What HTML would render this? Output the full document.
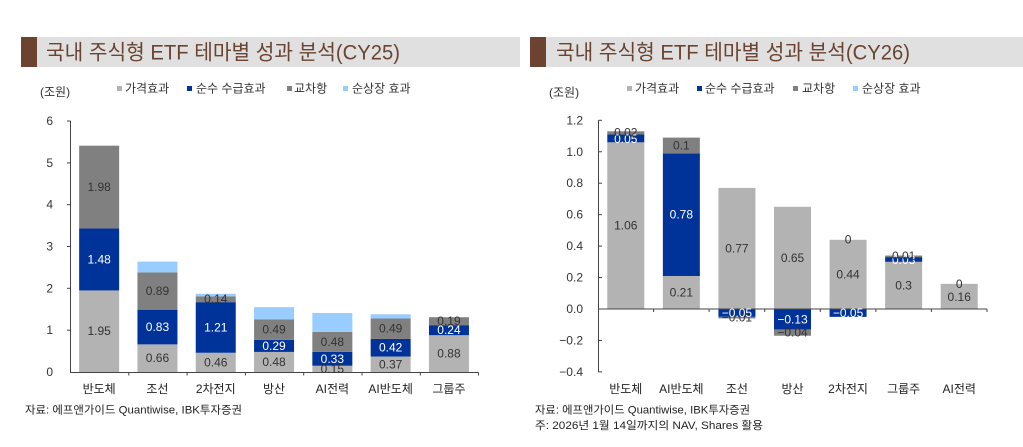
<!DOCTYPE html>
<html><head><meta charset="utf-8">
<style>
html,body{margin:0;padding:0;background:#fff;}
svg{display:block;}
text{font-family:"Liberation Sans","Noto Sans CJK KR","NanumGothic",sans-serif;}
</style></head>
<body>
<svg width="1023" height="447" viewBox="0 0 1023 447" xmlns="http://www.w3.org/2000/svg">
<!-- Titles -->
<rect x="21" y="37" width="16" height="30" fill="#6b4330"/>
<rect x="37" y="37" width="483" height="30" fill="#e0e0e0"/>
<text x="46" y="53" font-size="21" fill="#6a4431" dominant-baseline="central" textLength="354" lengthAdjust="spacingAndGlyphs">국내 주식형 ETF 테마별 성과 분석(CY25)</text>
<rect x="530" y="37" width="16" height="30" fill="#6b4330"/>
<rect x="546" y="37" width="477" height="30" fill="#e0e0e0"/>
<text x="556" y="53" font-size="21" fill="#6a4431" dominant-baseline="central" textLength="354" lengthAdjust="spacingAndGlyphs">국내 주식형 ETF 테마별 성과 분석(CY26)</text>

<!-- Left legend -->
<g font-size="12" fill="#333" dominant-baseline="central">
<text x="40" y="92">(조원)</text>
<rect x="117" y="86" width="5" height="5" fill="#b3b3b3"/><text x="125" y="88.5">가격효과</text>
<rect x="187" y="86" width="5" height="5" fill="#003399"/><text x="196" y="88.5">순수 수급효과</text>
<rect x="287" y="86" width="5" height="5" fill="#808080"/><text x="294" y="88.5">교차항</text>
<rect x="343" y="86" width="5" height="5" fill="#99ccff"/><text x="352" y="88.5">순상장 효과</text>
</g>
<!-- Right legend -->
<g font-size="12" fill="#333" dominant-baseline="central">
<text x="549" y="92.5">(조원)</text>
<rect x="627" y="86" width="5" height="5" fill="#b3b3b3"/><text x="635" y="88.5">가격효과</text>
<rect x="697" y="86" width="5" height="5" fill="#003399"/><text x="705" y="88.5">순수 수급효과</text>
<rect x="793" y="86" width="5" height="5" fill="#808080"/><text x="802" y="88.5">교차항</text>
<rect x="853" y="86" width="5" height="5" fill="#99ccff"/><text x="862" y="88.5">순상장 효과</text>
</g>

<!-- LEFT CHART -->
<g font-size="12" fill="#333" text-anchor="end" dominant-baseline="central">
<text x="53" y="121">6</text>
<text x="53" y="162.9">5</text>
<text x="53" y="204.7">4</text>
<text x="53" y="246.5">3</text>
<text x="53" y="288.3">2</text>
<text x="53" y="330.2">1</text>
<text x="53" y="372">0</text>
</g>
<g>
<rect x="79.15" y="290.43" width="40" height="81.57" fill="#b3b3b3"/>
<rect x="79.15" y="228.52" width="40" height="61.91" fill="#003399"/>
<rect x="79.15" y="145.7" width="40" height="82.82" fill="#808080"/>
<rect x="137.45" y="344.39" width="40" height="27.61" fill="#b3b3b3"/>
<rect x="137.45" y="309.67" width="40" height="34.72" fill="#003399"/>
<rect x="137.45" y="272.44" width="40" height="37.23" fill="#808080"/>
<rect x="137.45" y="261.57" width="40" height="10.87" fill="#99ccff"/>
<rect x="195.75" y="352.76" width="40" height="19.24" fill="#b3b3b3"/>
<rect x="195.75" y="302.14" width="40" height="50.62" fill="#003399"/>
<rect x="195.75" y="296.29" width="40" height="5.85" fill="#808080"/>
<rect x="195.75" y="293.78" width="40" height="2.51" fill="#99ccff"/>
<rect x="254.05" y="351.92" width="40" height="20.08" fill="#b3b3b3"/>
<rect x="254.05" y="339.79" width="40" height="12.13" fill="#003399"/>
<rect x="254.05" y="319.29" width="40" height="20.5" fill="#808080"/>
<rect x="254.05" y="307.16" width="40" height="12.13" fill="#99ccff"/>
<rect x="312.35" y="365.73" width="40" height="6.27" fill="#b3b3b3"/>
<rect x="312.35" y="351.92" width="40" height="13.81" fill="#003399"/>
<rect x="312.35" y="331.84" width="40" height="20.08" fill="#808080"/>
<rect x="312.35" y="313.02" width="40" height="18.82" fill="#99ccff"/>
<rect x="370.65" y="356.52" width="40" height="15.48" fill="#b3b3b3"/>
<rect x="370.65" y="338.95" width="40" height="17.57" fill="#003399"/>
<rect x="370.65" y="318.46" width="40" height="20.49" fill="#808080"/>
<rect x="370.65" y="314.27" width="40" height="4.19" fill="#99ccff"/>
<rect x="428.95" y="335.19" width="40" height="36.81" fill="#b3b3b3"/>
<rect x="428.95" y="325.15" width="40" height="10.04" fill="#003399"/>
<rect x="428.95" y="317.2" width="40" height="7.95" fill="#808080"/>
</g>
<g stroke="#444" stroke-width="1" fill="none">
<line x1="70.5" y1="121" x2="70.5" y2="372.5"/>
<line x1="67" y1="121" x2="70.5" y2="121"/>
<line x1="67" y1="162.9" x2="70.5" y2="162.9"/>
<line x1="67" y1="204.7" x2="70.5" y2="204.7"/>
<line x1="67" y1="246.5" x2="70.5" y2="246.5"/>
<line x1="67" y1="288.3" x2="70.5" y2="288.3"/>
<line x1="67" y1="330.2" x2="70.5" y2="330.2"/>
<line x1="70" y1="372.5" x2="478.5" y2="372.5"/>
<line x1="128.8" y1="372.5" x2="128.8" y2="375.5"/>
<line x1="187.1" y1="372.5" x2="187.1" y2="375.5"/>
<line x1="245.4" y1="372.5" x2="245.4" y2="375.5"/>
<line x1="303.7" y1="372.5" x2="303.7" y2="375.5"/>
<line x1="362" y1="372.5" x2="362" y2="375.5"/>
<line x1="420.3" y1="372.5" x2="420.3" y2="375.5"/>
<line x1="478.5" y1="372.5" x2="478.5" y2="375.5"/>
</g>
<g font-size="12" text-anchor="middle" dominant-baseline="central">
<text x="99.15" y="331.2" fill="#333">1.95</text>
<text x="99.15" y="259.5" fill="#fff">1.48</text>
<text x="99.15" y="187.1" fill="#333">1.98</text>
<text x="157.45" y="358.2" fill="#333">0.66</text>
<text x="157.45" y="327" fill="#fff">0.83</text>
<text x="157.45" y="291.1" fill="#333">0.89</text>
<text x="215.75" y="362.4" fill="#333">0.46</text>
<text x="215.75" y="327.45" fill="#fff">1.21</text>
<text x="215.75" y="299.2" fill="#333">0.14</text>
<text x="274.05" y="362" fill="#333">0.48</text>
<text x="274.05" y="345.9" fill="#fff">0.29</text>
<text x="274.05" y="329.5" fill="#333">0.49</text>
<text x="332.35" y="368.9" fill="#333">0.15</text>
<text x="332.35" y="358.8" fill="#fff">0.33</text>
<text x="332.35" y="341.9" fill="#333">0.48</text>
<text x="390.65" y="364.3" fill="#333">0.37</text>
<text x="390.65" y="347.7" fill="#fff">0.42</text>
<text x="390.65" y="328.7" fill="#333">0.49</text>
<text x="448.95" y="353.6" fill="#333">0.88</text>
<text x="448.95" y="330.2" fill="#fff">0.24</text>
<text x="448.95" y="321.2" fill="#333">0.19</text>
</g>
<g font-size="12" fill="#222" text-anchor="middle" dominant-baseline="central">
<text x="99.15" y="389">반도체</text>
<text x="157.45" y="389">조선</text>
<text x="215.75" y="389">2차전지</text>
<text x="274.05" y="389">방산</text>
<text x="332.35" y="389">AI전력</text>
<text x="390.65" y="389">AI반도체</text>
<text x="448.95" y="389">그룹주</text>
</g>
<text x="25" y="410.7" font-size="11" fill="#222" dominant-baseline="central" textLength="217" lengthAdjust="spacingAndGlyphs">자료: 에프앤가이드 Quantiwise, IBK투자증권</text>

<!-- RIGHT CHART -->
<g font-size="12" fill="#333" text-anchor="end" dominant-baseline="central">
<text x="583" y="120.3">1.2</text>
<text x="583" y="151.75">1.0</text>
<text x="583" y="183.2">0.8</text>
<text x="583" y="214.65">0.6</text>
<text x="583" y="246.1">0.4</text>
<text x="583" y="277.55">0.2</text>
<text x="583" y="309">0.0</text>
<text x="583" y="340.45">−0.2</text>
<text x="583" y="371.9">−0.4</text>
</g>
<g>
<rect x="607.29" y="142.31" width="37" height="166.69" fill="#b3b3b3"/>
<rect x="607.29" y="134.45" width="37" height="7.86" fill="#003399"/>
<rect x="607.29" y="131.31" width="37" height="3.14" fill="#808080"/>
<rect x="662.86" y="275.98" width="37" height="33.02" fill="#b3b3b3"/>
<rect x="662.86" y="153.32" width="37" height="122.66" fill="#003399"/>
<rect x="662.86" y="137.6" width="37" height="15.72" fill="#808080"/>
<rect x="718.43" y="187.92" width="37" height="121.08" fill="#b3b3b3"/>
<rect x="718.43" y="309" width="37" height="7.86" fill="#003399"/>
<rect x="718.43" y="316.86" width="37" height="1.57" fill="#808080"/>
<rect x="774" y="206.79" width="37" height="102.21" fill="#b3b3b3"/>
<rect x="774" y="309" width="37" height="20.44" fill="#003399"/>
<rect x="774" y="329.44" width="37" height="6.29" fill="#808080"/>
<rect x="829.57" y="239.81" width="37" height="69.19" fill="#b3b3b3"/>
<rect x="829.57" y="309" width="37" height="7.86" fill="#003399"/>
<rect x="885.14" y="261.82" width="37" height="47.18" fill="#b3b3b3"/>
<rect x="885.14" y="257.1" width="37" height="4.72" fill="#003399"/>
<rect x="885.14" y="255.53" width="37" height="1.57" fill="#808080"/>
<rect x="940.7" y="283.84" width="37" height="25.16" fill="#b3b3b3"/>
</g>
<g stroke="#444" stroke-width="1" fill="none">
<line x1="598.5" y1="120.3" x2="598.5" y2="372"/>
<line x1="598.5" y1="120.3" x2="602" y2="120.3"/>
<line x1="598.5" y1="151.75" x2="602" y2="151.75"/>
<line x1="598.5" y1="183.2" x2="602" y2="183.2"/>
<line x1="598.5" y1="214.65" x2="602" y2="214.65"/>
<line x1="598.5" y1="246.1" x2="602" y2="246.1"/>
<line x1="598.5" y1="277.55" x2="602" y2="277.55"/>
<line x1="598.5" y1="340.45" x2="602" y2="340.45"/>
<line x1="598.5" y1="371.9" x2="602" y2="371.9"/>
<line x1="598" y1="309" x2="987" y2="309"/>
<line x1="653.6" y1="309" x2="653.6" y2="312"/>
<line x1="709.1" y1="309" x2="709.1" y2="312"/>
<line x1="764.7" y1="309" x2="764.7" y2="312"/>
<line x1="820.3" y1="309" x2="820.3" y2="312"/>
<line x1="875.9" y1="309" x2="875.9" y2="312"/>
<line x1="931.4" y1="309" x2="931.4" y2="312"/>
<line x1="987" y1="309" x2="987" y2="312"/>
</g>
<g font-size="12" text-anchor="middle" dominant-baseline="central">
<text x="625.79" y="225.7" fill="#333">1.06</text>
<text x="625.79" y="139" fill="#fff">0.05</text>
<text x="625.79" y="132.4" fill="#333">0.02</text>
<text x="681.36" y="292.5" fill="#333">0.21</text>
<text x="681.36" y="214.65" fill="#fff">0.78</text>
<text x="681.36" y="145.5" fill="#333">0.1</text>
<text x="736.93" y="248.5" fill="#333">0.77</text>
<text x="736.93" y="317.6" fill="#333">−0.01</text>
<text x="736.93" y="312.9" fill="#fff">−0.05</text>
<text x="792.5" y="257.9" fill="#333">0.65</text>
<text x="792.5" y="319.6" fill="#fff">−0.13</text>
<text x="792.5" y="332.6" fill="#333">−0.04</text>
<text x="848.07" y="274.4" fill="#333">0.44</text>
<text x="848.07" y="239.3" fill="#333">0</text>
<text x="848.07" y="312.9" fill="#fff">−0.05</text>
<text x="903.64" y="285.4" fill="#333">0.3</text>
<text x="903.64" y="259.8" fill="#fff">0.03</text>
<text x="903.64" y="256" fill="#333">0.01</text>
<text x="959.2" y="297" fill="#333">0.16</text>
<text x="959.2" y="284" fill="#333">0</text>
</g>
<g font-size="12" fill="#222" text-anchor="middle" dominant-baseline="central">
<text x="625.79" y="389">반도체</text>
<text x="681.36" y="389">AI반도체</text>
<text x="736.93" y="389">조선</text>
<text x="792.5" y="389">방산</text>
<text x="848.07" y="389">2차전지</text>
<text x="903.64" y="389">그룹주</text>
<text x="959.2" y="389">AI전력</text>
</g>
<text x="535" y="410.7" font-size="11" fill="#222" dominant-baseline="central" textLength="215" lengthAdjust="spacingAndGlyphs">자료: 에프앤가이드 Quantiwise, IBK투자증권</text>
<text x="535" y="426" font-size="11" fill="#222" dominant-baseline="central" textLength="228" lengthAdjust="spacingAndGlyphs">주: 2026년 1월 14일까지의 NAV, Shares 활용</text>
</svg>
</body></html>
